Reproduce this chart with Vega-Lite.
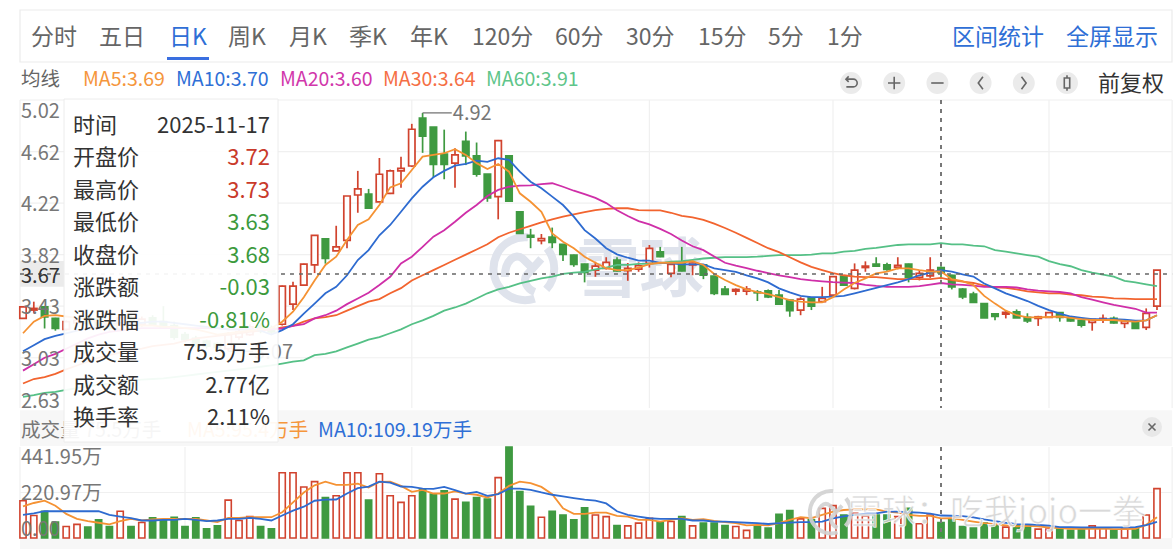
{"$schema":"https://vega.github.io/schema/vega-lite/v6.json","width":1175,"height":549,"padding":0,"autosize":{"type":"none"},"background":"#ffffff","config":{"view":{"stroke":null},"text":{"font":"Noto Sans CJK SC"}},
"datasets":{"k":[
{"i":0,"o":3.325,"h":3.42,"l":3.32,"c":3.415,"d":"up","v":181,"m5":3.21,"m10":3.07,"m20":2.92,"m30":2.82,"m60":2.716,"vm5":154,"vm10":112},
{"i":1,"o":3.39,"h":3.455,"l":3.365,"c":3.403,"d":"up","v":109,"m5":3.3,"m10":3.117,"m20":2.97,"m30":2.855,"m60":2.73,"vm5":170,"vm10":120},
{"i":2,"o":3.415,"h":3.415,"l":3.247,"c":3.337,"d":"down","v":130,"m5":3.345,"m10":3.164,"m20":3.02,"m30":2.87,"m60":2.748,"vm5":181,"vm10":130},
{"i":3,"o":3.325,"h":3.33,"l":3.23,"c":3.247,"d":"down","v":77,"m5":3.35,"m10":3.19,"m20":3.05,"m30":2.895,"m60":2.755,"vm5":157,"vm10":130},
{"i":4,"o":3.24,"h":3.31,"l":3.23,"c":3.3,"d":"up","v":56,"m5":3.34,"m10":3.21,"m20":3.09,"m30":2.93,"m60":2.77,"vm5":117,"vm10":130},
{"i":5,"o":3.29,"h":3.33,"l":3.27,"c":3.31,"d":"up","v":66,"m5":3.33,"m10":3.23,"m20":3.13,"m30":2.96,"m60":2.785,"vm5":93,"vm10":130},
{"i":6,"o":3.33,"h":3.34,"l":3.27,"c":3.29,"d":"down","v":53,"m5":3.32,"m10":3.25,"m20":3.17,"m30":2.99,"m60":2.8,"vm5":82,"vm10":130},
{"i":7,"o":3.32,"h":3.35,"l":3.26,"c":3.27,"d":"down","v":88,"m5":3.3,"m10":3.26,"m20":3.2,"m30":3.02,"m60":2.81,"vm5":74,"vm10":130},
{"i":8,"o":3.28,"h":3.3,"l":3.23,"c":3.25,"d":"down","v":56,"m5":3.28,"m10":3.28,"m20":3.22,"m30":3.04,"m60":2.82,"vm5":66,"vm10":112},
{"i":9,"o":3.24,"h":3.36,"l":3.23,"c":3.33,"d":"up","v":130,"m5":3.27,"m10":3.29,"m20":3.23,"m30":3.06,"m60":2.83,"vm5":82,"vm10":104},
{"i":10,"o":3.33,"h":3.35,"l":3.27,"c":3.29,"d":"down","v":56,"m5":3.27,"m10":3.29,"m20":3.24,"m30":3.08,"m60":2.84,"vm5":93,"vm10":96},
{"i":11,"o":3.28,"h":3.34,"l":3.26,"c":3.32,"d":"up","v":75,"m5":3.27,"m10":3.29,"m20":3.25,"m30":3.09,"m60":2.85,"vm5":85,"vm10":85},
{"i":12,"o":3.33,"h":3.35,"l":3.27,"c":3.28,"d":"down","v":98,"m5":3.27,"m10":3.3,"m20":3.25,"m30":3.11,"m60":2.855,"vm5":90,"vm10":85},
{"i":13,"o":3.3,"h":3.42,"l":3.25,"c":3.26,"d":"down","v":88,"m5":3.26,"m10":3.3,"m20":3.25,"m30":3.12,"m60":2.86,"vm5":93,"vm10":88},
{"i":14,"o":3.27,"h":3.3,"l":3.16,"c":3.18,"d":"down","v":101,"m5":3.26,"m10":3.29,"m20":3.25,"m30":3.13,"m60":2.87,"vm5":93,"vm10":88},
{"i":15,"o":3.2,"h":3.22,"l":3.14,"c":3.16,"d":"down","v":56,"m5":3.25,"m10":3.28,"m20":3.25,"m30":3.15,"m60":2.88,"vm5":93,"vm10":93},
{"i":16,"o":3.17,"h":3.19,"l":3.1,"c":3.12,"d":"down","v":98,"m5":3.24,"m10":3.27,"m20":3.25,"m30":3.17,"m60":2.89,"vm5":93,"vm10":88},
{"i":17,"o":3.15,"h":3.16,"l":3.09,"c":3.11,"d":"down","v":45,"m5":3.22,"m10":3.26,"m20":3.25,"m30":3.18,"m60":2.9,"vm5":85,"vm10":82},
{"i":18,"o":3.13,"h":3.14,"l":3.08,"c":3.1,"d":"down","v":59,"m5":3.2,"m10":3.25,"m20":3.25,"m30":3.19,"m60":2.91,"vm5":77,"vm10":85},
{"i":19,"o":3.09,"h":3.22,"l":3.07,"c":3.2,"d":"up","v":184,"m5":3.21,"m10":3.24,"m20":3.24,"m30":3.2,"m60":2.92,"vm5":98,"vm10":93},
{"i":20,"o":3.18,"h":3.24,"l":3.16,"c":3.22,"d":"up","v":85,"m5":3.22,"m10":3.24,"m20":3.24,"m30":3.21,"m60":2.93,"vm5":98,"vm10":93},
{"i":21,"o":3.2,"h":3.28,"l":3.19,"c":3.26,"d":"up","v":104,"m5":3.23,"m10":3.24,"m20":3.24,"m30":3.22,"m60":2.94,"vm5":101,"vm10":98},
{"i":22,"o":3.27,"h":3.29,"l":3.21,"c":3.23,"d":"down","v":56,"m5":3.24,"m10":3.23,"m20":3.24,"m30":3.23,"m60":2.95,"vm5":101,"vm10":93},
{"i":23,"o":3.25,"h":3.27,"l":3.2,"c":3.22,"d":"down","v":45,"m5":3.25,"m10":3.2,"m20":3.24,"m30":3.24,"m60":2.96,"vm5":101,"vm10":85},
{"i":24,"o":3.28,"h":3.58,"l":3.27,"c":3.576,"d":"up","v":317,"m5":3.3,"m10":3.234,"m20":3.247,"m30":3.255,"m60":2.975,"vm5":125,"vm10":109},
{"i":25,"o":3.436,"h":3.61,"l":3.39,"c":3.576,"d":"up","v":317,"m5":3.377,"m10":3.28,"m20":3.268,"m30":3.268,"m60":2.99,"vm5":173,"vm10":133},
{"i":26,"o":3.584,"h":3.75,"l":3.58,"c":3.747,"d":"up","v":248,"m5":3.49,"m10":3.363,"m20":3.28,"m30":3.3,"m60":3.0,"vm5":221,"vm10":152},
{"i":27,"o":3.74,"h":3.97,"l":3.677,"c":3.97,"d":"up","v":274,"m5":3.62,"m10":3.44,"m20":3.325,"m30":3.325,"m60":3.04,"vm5":256,"vm10":181},
{"i":28,"o":3.943,"h":3.94,"l":3.75,"c":3.79,"d":"down","v":197,"m5":3.74,"m10":3.52,"m20":3.35,"m30":3.335,"m60":3.05,"vm5":274,"vm10":186},
{"i":29,"o":3.85,"h":4.044,"l":3.85,"c":3.88,"d":"up","v":205,"m5":3.804,"m10":3.57,"m20":3.385,"m30":3.35,"m60":3.07,"vm5":258,"vm10":187},
{"i":30,"o":3.93,"h":4.275,"l":3.87,"c":4.275,"d":"up","v":317,"m5":3.934,"m10":3.66,"m20":3.436,"m30":3.385,"m60":3.1,"vm5":258,"vm10":216},
{"i":31,"o":4.283,"h":4.47,"l":4.145,"c":4.33,"d":"up","v":317,"m5":4.05,"m10":3.778,"m20":3.48,"m30":3.42,"m60":3.13,"vm5":264,"vm10":242},
{"i":32,"o":4.29,"h":4.33,"l":4.18,"c":4.18,"d":"down","v":184,"m5":4.094,"m10":3.855,"m20":3.524,"m30":3.455,"m60":3.16,"vm5":245,"vm10":250},
{"i":33,"o":4.23,"h":4.57,"l":4.23,"c":4.444,"d":"up","v":312,"m5":4.205,"m10":3.97,"m20":3.584,"m30":3.475,"m60":3.18,"vm5":272,"vm10":274},
{"i":34,"o":4.296,"h":4.48,"l":4.29,"c":4.47,"d":"up","v":205,"m5":4.342,"m10":4.05,"m20":3.648,"m30":3.52,"m60":3.21,"vm5":274,"vm10":269},
{"i":35,"o":4.47,"h":4.58,"l":4.34,"c":4.49,"d":"up","v":173,"m5":4.374,"m10":4.153,"m20":3.752,"m30":3.56,"m60":3.24,"vm5":253,"vm10":250},
{"i":36,"o":4.508,"h":4.835,"l":4.5,"c":4.793,"d":"up","v":205,"m5":4.477,"m10":4.257,"m20":3.804,"m30":3.62,"m60":3.28,"vm5":224,"vm10":248},
{"i":37,"o":4.88,"h":4.92,"l":4.61,"c":4.74,"d":"down","v":237,"m5":4.58,"m10":4.347,"m20":3.88,"m30":3.66,"m60":3.31,"vm5":234,"vm10":240},
{"i":38,"o":4.81,"h":4.81,"l":4.42,"c":4.52,"d":"down","v":213,"m5":4.594,"m10":4.42,"m20":3.96,"m30":3.7,"m60":3.345,"vm5":216,"vm10":239},
{"i":39,"o":4.6,"h":4.79,"l":4.405,"c":4.52,"d":"down","v":229,"m5":4.607,"m10":4.47,"m20":4.01,"m30":3.74,"m60":3.385,"vm5":216,"vm10":248},
{"i":40,"o":4.53,"h":4.645,"l":4.34,"c":4.594,"d":"up","v":189,"m5":4.638,"m10":4.51,"m20":4.075,"m30":3.78,"m60":3.41,"vm5":226,"vm10":232},
{"i":41,"o":4.7,"h":4.775,"l":4.515,"c":4.586,"d":"down","v":173,"m5":4.594,"m10":4.524,"m20":4.145,"m30":3.82,"m60":3.44,"vm5":216,"vm10":216},
{"i":42,"o":4.586,"h":4.69,"l":4.425,"c":4.445,"d":"down","v":197,"m5":4.53,"m10":4.55,"m20":4.205,"m30":3.86,"m60":3.48,"vm5":210,"vm10":224},
{"i":43,"o":4.445,"h":4.445,"l":4.23,"c":4.26,"d":"down","v":189,"m5":4.485,"m10":4.54,"m20":4.275,"m30":3.9,"m60":3.52,"vm5":197,"vm10":205},
{"i":44,"o":4.27,"h":4.71,"l":4.094,"c":4.705,"d":"up","v":293,"m5":4.524,"m10":4.568,"m20":4.322,"m30":3.955,"m60":3.55,"vm5":216,"vm10":213},
{"i":45,"o":4.586,"h":4.59,"l":4.23,"c":4.236,"d":"down","v":441.95,"m5":4.464,"m10":4.555,"m20":4.347,"m30":3.99,"m60":3.57,"vm5":253,"vm10":240},
{"i":46,"o":4.153,"h":4.155,"l":3.98,"c":3.985,"d":"down","v":226,"m5":4.296,"m10":4.464,"m20":4.355,"m30":4.017,"m60":3.597,"vm5":274,"vm10":240},
{"i":47,"o":3.97,"h":4.02,"l":3.87,"c":3.955,"d":"down","v":154,"m5":4.23,"m10":4.386,"m20":4.358,"m30":4.044,"m60":3.617,"vm5":266,"vm10":234},
{"i":48,"o":3.928,"h":3.98,"l":3.9,"c":3.944,"d":"up","v":101,"m5":4.153,"m10":4.335,"m20":4.368,"m30":4.07,"m60":3.636,"vm5":248,"vm10":221},
{"i":49,"o":3.957,"h":4.03,"l":3.87,"c":3.915,"d":"down","v":130,"m5":3.985,"m10":4.27,"m20":4.374,"m30":4.094,"m60":3.65,"vm5":213,"vm10":210},
{"i":50,"o":3.9,"h":3.9,"l":3.77,"c":3.822,"d":"down","v":112,"m5":3.92,"m10":4.205,"m20":4.347,"m30":4.115,"m60":3.67,"vm5":144,"vm10":202},
{"i":51,"o":3.817,"h":3.82,"l":3.726,"c":3.745,"d":"down","v":88,"m5":3.87,"m10":4.115,"m20":4.316,"m30":4.133,"m60":3.68,"vm5":117,"vm10":194},
{"i":52,"o":3.747,"h":3.75,"l":3.605,"c":3.683,"d":"down","v":147,"m5":3.804,"m10":4.01,"m20":4.29,"m30":4.15,"m60":3.687,"vm5":117,"vm10":186},
{"i":53,"o":3.7,"h":3.765,"l":3.648,"c":3.731,"d":"up","v":112,"m5":3.757,"m10":3.945,"m20":4.26,"m30":4.165,"m60":3.706,"vm5":123,"vm10":182},
{"i":54,"o":3.714,"h":3.8,"l":3.705,"c":3.76,"d":"up","v":104,"m5":3.716,"m10":3.87,"m20":4.22,"m30":4.175,"m60":3.72,"vm5":123,"vm10":168},
{"i":55,"o":3.778,"h":3.8,"l":3.69,"c":3.693,"d":"down","v":61,"m5":3.7,"m10":3.822,"m20":4.165,"m30":4.18,"m60":3.74,"vm5":107,"vm10":130},
{"i":56,"o":3.695,"h":3.755,"l":3.617,"c":3.714,"d":"up","v":59,"m5":3.7,"m10":3.796,"m20":4.12,"m30":4.18,"m60":3.74,"vm5":104,"vm10":112},
{"i":57,"o":3.708,"h":3.76,"l":3.687,"c":3.734,"d":"up","v":72,"m5":3.72,"m10":3.773,"m20":4.08,"m30":4.165,"m60":3.748,"vm5":88,"vm10":104},
{"i":58,"o":3.752,"h":3.895,"l":3.72,"c":3.869,"d":"up","v":96,"m5":3.747,"m10":3.773,"m20":4.055,"m30":4.163,"m60":3.75,"vm5":88,"vm10":96},
{"i":59,"o":3.842,"h":3.88,"l":3.8,"c":3.804,"d":"down","v":77,"m5":3.757,"m10":3.757,"m20":4.02,"m30":4.163,"m60":3.755,"vm5":80,"vm10":93},
{"i":60,"o":3.675,"h":3.75,"l":3.644,"c":3.745,"d":"up","v":80,"m5":3.757,"m10":3.752,"m20":3.98,"m30":4.145,"m60":3.766,"vm5":88,"vm10":93},
{"i":61,"o":3.765,"h":3.88,"l":3.69,"c":3.693,"d":"down","v":104,"m5":3.757,"m10":3.745,"m20":3.93,"m30":4.12,"m60":3.77,"vm5":96,"vm10":93},
{"i":62,"o":3.74,"h":3.757,"l":3.66,"c":3.755,"d":"up","v":59,"m5":3.77,"m10":3.745,"m20":3.885,"m30":4.11,"m60":3.78,"vm5":88,"vm10":85},
{"i":63,"o":3.74,"h":3.74,"l":3.63,"c":3.66,"d":"down","v":72,"m5":3.74,"m10":3.745,"m20":3.855,"m30":4.09,"m60":3.79,"vm5":91,"vm10":85},
{"i":64,"o":3.654,"h":3.655,"l":3.506,"c":3.52,"d":"down","v":72,"m5":3.67,"m10":3.714,"m20":3.805,"m30":4.06,"m60":3.796,"vm5":83,"vm10":80},
{"i":65,"o":3.553,"h":3.576,"l":3.51,"c":3.512,"d":"down","v":61,"m5":3.623,"m10":3.7,"m20":3.757,"m30":4.027,"m60":3.8,"vm5":77,"vm10":80},
{"i":66,"o":3.537,"h":3.558,"l":3.506,"c":3.55,"d":"up","v":56,"m5":3.584,"m10":3.687,"m20":3.735,"m30":3.99,"m60":3.8,"vm5":72,"vm10":77},
{"i":67,"o":3.537,"h":3.576,"l":3.506,"c":3.553,"d":"up","v":37,"m5":3.55,"m10":3.66,"m20":3.716,"m30":3.95,"m60":3.8,"vm5":61,"vm10":74},
{"i":68,"o":3.53,"h":3.545,"l":3.46,"c":3.524,"d":"down","v":59,"m5":3.53,"m10":3.636,"m20":3.695,"m30":3.91,"m60":3.804,"vm5":64,"vm10":72},
{"i":69,"o":3.54,"h":3.55,"l":3.483,"c":3.493,"d":"down","v":48,"m5":3.514,"m10":3.605,"m20":3.677,"m30":3.87,"m60":3.81,"vm5":61,"vm10":68},
{"i":70,"o":3.506,"h":3.545,"l":3.436,"c":3.436,"d":"down","v":115,"m5":3.49,"m10":3.558,"m20":3.66,"m30":3.84,"m60":3.817,"vm5":72,"vm10":72},
{"i":71,"o":3.467,"h":3.467,"l":3.338,"c":3.385,"d":"down","v":133,"m5":3.467,"m10":3.527,"m20":3.646,"m30":3.8,"m60":3.817,"vm5":88,"vm10":75},
{"i":72,"o":3.39,"h":3.49,"l":3.35,"c":3.475,"d":"up","v":93,"m5":3.455,"m10":3.5,"m20":3.63,"m30":3.76,"m60":3.817,"vm5":101,"vm10":77},
{"i":73,"o":3.485,"h":3.49,"l":3.39,"c":3.42,"d":"down","v":88,"m5":3.45,"m10":3.49,"m20":3.62,"m30":3.725,"m60":3.82,"vm5":96,"vm10":77},
{"i":74,"o":3.455,"h":3.57,"l":3.45,"c":3.48,"d":"up","v":144,"m5":3.45,"m10":3.49,"m20":3.613,"m30":3.7,"m60":3.83,"vm5":112,"vm10":80},
{"i":75,"o":3.506,"h":3.65,"l":3.5,"c":3.65,"d":"up","v":157,"m5":3.49,"m10":3.495,"m20":3.607,"m30":3.676,"m60":3.83,"vm5":128,"vm10":95},
{"i":76,"o":3.654,"h":3.66,"l":3.58,"c":3.584,"d":"down","v":112,"m5":3.55,"m10":3.5,"m20":3.603,"m30":3.66,"m60":3.843,"vm5":136,"vm10":105},
{"i":77,"o":3.558,"h":3.752,"l":3.55,"c":3.7,"d":"up","v":120,"m5":3.6,"m10":3.52,"m20":3.6,"m30":3.65,"m60":3.85,"vm5":139,"vm10":112},
{"i":78,"o":3.72,"h":3.768,"l":3.687,"c":3.731,"d":"up","v":107,"m5":3.636,"m10":3.54,"m20":3.586,"m30":3.645,"m60":3.864,"vm5":139,"vm10":118},
{"i":79,"o":3.747,"h":3.8,"l":3.726,"c":3.73,"d":"down","v":112,"m5":3.675,"m10":3.563,"m20":3.577,"m30":3.645,"m60":3.872,"vm5":139,"vm10":120},
{"i":80,"o":3.74,"h":3.757,"l":3.695,"c":3.706,"d":"down","v":112,"m5":3.688,"m10":3.584,"m20":3.57,"m30":3.637,"m60":3.885,"vm5":128,"vm10":128},
{"i":81,"o":3.722,"h":3.8,"l":3.706,"c":3.737,"d":"up","v":104,"m5":3.714,"m10":3.605,"m20":3.57,"m30":3.63,"m60":3.895,"vm5":123,"vm10":128},
{"i":82,"o":3.747,"h":3.75,"l":3.605,"c":3.644,"d":"down","v":144,"m5":3.714,"m10":3.63,"m20":3.57,"m30":3.63,"m60":3.9,"vm5":112,"vm10":125},
{"i":83,"o":3.644,"h":3.7,"l":3.62,"c":3.675,"d":"up","v":69,"m5":3.7,"m10":3.66,"m20":3.575,"m30":3.63,"m60":3.9,"vm5":107,"vm10":123},
{"i":84,"o":3.656,"h":3.8,"l":3.64,"c":3.7,"d":"up","v":112,"m5":3.688,"m10":3.68,"m20":3.588,"m30":3.63,"m60":3.9,"vm5":107,"vm10":118},
{"i":85,"o":3.72,"h":3.73,"l":3.63,"c":3.68,"d":"down","v":75.5,"m5":3.69,"m10":3.7,"m20":3.6,"m30":3.64,"m60":3.91,"vm5":95.4,"vm10":109.19},
{"i":86,"o":3.66,"h":3.665,"l":3.55,"c":3.57,"d":"down","v":88,"m5":3.63,"m10":3.688,"m20":3.59,"m30":3.622,"m60":3.9,"vm5":96,"vm10":108},
{"i":87,"o":3.553,"h":3.56,"l":3.475,"c":3.493,"d":"down","v":56,"m5":3.615,"m10":3.667,"m20":3.585,"m30":3.61,"m60":3.9,"vm5":88,"vm10":106},
{"i":88,"o":3.514,"h":3.532,"l":3.45,"c":3.45,"d":"down","v":48,"m5":3.584,"m10":3.65,"m20":3.58,"m30":3.6,"m60":3.89,"vm5":80,"vm10":100},
{"i":89,"o":3.44,"h":3.445,"l":3.33,"c":3.33,"d":"down","v":72,"m5":3.5,"m10":3.596,"m20":3.57,"m30":3.58,"m60":3.885,"vm5":72,"vm10":90},
{"i":90,"o":3.36,"h":3.365,"l":3.31,"c":3.34,"d":"down","v":59,"m5":3.44,"m10":3.558,"m20":3.57,"m30":3.567,"m60":3.855,"vm5":67,"vm10":82},
{"i":91,"o":3.358,"h":3.39,"l":3.325,"c":3.372,"d":"up","v":53,"m5":3.385,"m10":3.52,"m20":3.57,"m30":3.563,"m60":3.843,"vm5":61,"vm10":74},
{"i":92,"o":3.376,"h":3.395,"l":3.33,"c":3.33,"d":"down","v":59,"m5":3.35,"m10":3.49,"m20":3.565,"m30":3.55,"m60":3.83,"vm5":56,"vm10":67},
{"i":93,"o":3.333,"h":3.365,"l":3.29,"c":3.305,"d":"down","v":59,"m5":3.333,"m10":3.46,"m20":3.55,"m30":3.535,"m60":3.817,"vm5":59,"vm10":66},
{"i":94,"o":3.325,"h":3.345,"l":3.267,"c":3.338,"d":"up","v":43,"m5":3.333,"m10":3.423,"m20":3.54,"m30":3.527,"m60":3.804,"vm5":56,"vm10":64},
{"i":95,"o":3.333,"h":3.375,"l":3.33,"c":3.37,"d":"up","v":43,"m5":3.336,"m10":3.39,"m20":3.535,"m30":3.52,"m60":3.77,"vm5":51,"vm10":60},
{"i":96,"o":3.37,"h":3.375,"l":3.3,"c":3.333,"d":"down","v":43,"m5":3.34,"m10":3.363,"m20":3.53,"m30":3.52,"m60":3.747,"vm5":48,"vm10":53},
{"i":97,"o":3.333,"h":3.34,"l":3.3,"c":3.305,"d":"down","v":37,"m5":3.33,"m10":3.34,"m20":3.52,"m30":3.51,"m60":3.73,"vm5":45,"vm10":53},
{"i":98,"o":3.31,"h":3.31,"l":3.255,"c":3.273,"d":"down","v":43,"m5":3.32,"m10":3.33,"m20":3.49,"m30":3.505,"m60":3.7,"vm5":45,"vm10":52},
{"i":99,"o":3.294,"h":3.32,"l":3.23,"c":3.317,"d":"up","v":59,"m5":3.313,"m10":3.32,"m20":3.47,"m30":3.495,"m60":3.68,"vm5":45,"vm10":52},
{"i":100,"o":3.32,"h":3.355,"l":3.29,"c":3.325,"d":"up","v":48,"m5":3.313,"m10":3.32,"m20":3.45,"m30":3.49,"m60":3.665,"vm5":46,"vm10":52},
{"i":101,"o":3.325,"h":3.34,"l":3.285,"c":3.29,"d":"down","v":37,"m5":3.313,"m10":3.32,"m20":3.43,"m30":3.48,"m60":3.65,"vm5":43,"vm10":52},
{"i":102,"o":3.286,"h":3.31,"l":3.25,"c":3.305,"d":"up","v":43,"m5":3.305,"m10":3.315,"m20":3.415,"m30":3.478,"m60":3.617,"vm5":43,"vm10":52},
{"i":103,"o":3.29,"h":3.29,"l":3.245,"c":3.248,"d":"down","v":48,"m5":3.3,"m10":3.307,"m20":3.4,"m30":3.475,"m60":3.605,"vm5":45,"vm10":53},
{"i":104,"o":3.255,"h":3.403,"l":3.235,"c":3.365,"d":"up","v":112,"m5":3.31,"m10":3.31,"m20":3.37,"m30":3.475,"m60":3.59,"vm5":64,"vm10":62},
{"i":105,"o":3.42,"h":3.7,"l":3.39,"c":3.7,"d":"up","v":240,"m5":3.35,"m10":3.35,"m20":3.37,"m30":3.475,"m60":3.575,"vm5":101,"vm10":78}
]},
"data":{"name":"k"},
"resolve":{"scale":{"x":"independent","y":"independent","fill":"independent","stroke":"independent","color":"independent","shape":"independent"}},
"layer":[
{"data":{"values":[{}]},"mark":{"type":"rect","fill":"#f7f7f7"},"encoding":{"x":{"datum":-0.28,"type":"quantitative","scale":{"domain":[0,105],"range":[23,1157],"padding":0,"nice":false,"zero":false},"axis":null},"x2":{"datum":106.4},"y":{"datum":620,"type":"quantitative","scale":{"domain":[0,441.95],"range":[538,447],"nice":false},"axis":null},"y2":{"datum":447}}},
{"data":{"values":[{}]},"mark":{"type":"rect","fill":"#f7f7f7"},"encoding":{"x":{"datum":-0.28,"type":"quantitative","scale":{"domain":[0,105],"range":[23,1157],"padding":0,"nice":false,"zero":false},"axis":null},"x2":{"datum":106.4},"y":{"datum":0,"type":"quantitative","scale":{"domain":[0,441.95],"range":[538,447],"nice":false},"axis":null},"y2":{"datum":-60}}},
{"layer":[
 {"data":{"values":[{"g":-0.28},{"g":36},{"g":58},{"g":75},{"g":95},{"g":106.4}]},"mark":{"type":"rule","stroke":"#f0f0f0","strokeWidth":1.2},"encoding":{"x":{"field":"g","type":"quantitative","scale":{"domain":[0,105],"range":[23,1157],"padding":0,"nice":false,"zero":false},"axis":null},"y":{"datum":5.02,"type":"quantitative","scale":{"domain":[2.63,5.02],"range":[408,100],"nice":false,"zero":false},"axis":null},"y2":{"datum":2.63}}},
 {"data":{"values":[{"p":5.02},{"p":4.62},{"p":4.22},{"p":3.82},{"p":3.42},{"p":3.02}]},"mark":{"type":"rule","stroke":"#f0f0f0","strokeWidth":1.2},"encoding":{"y":{"field":"p","type":"quantitative","scale":{"domain":[2.63,5.02],"range":[408,100],"nice":false,"zero":false},"axis":null},"x":{"datum":-0.28,"type":"quantitative","scale":{"domain":[0,105],"range":[23,1157],"padding":0,"nice":false,"zero":false},"axis":null},"x2":{"datum":106.4}}},
 {"data":{"values":[{}]},"mark":{"type":"rect","fill":"#ebebeb"},"encoding":{"x":{"datum":-0.28,"type":"quantitative","scale":{"domain":[0,105],"range":[23,1157],"padding":0,"nice":false,"zero":false},"axis":null},"x2":{"datum":3.8},"y":{"datum":3.77,"type":"quantitative","scale":{"domain":[2.63,5.02],"range":[408,100],"nice":false,"zero":false},"axis":null},"y2":{"datum":3.57}}},
 {"data":{"values":[{"t":"雪球"}]},"mark":{"type":"text","fontSize":64,"fontWeight":"bold","fill":"#dfe3ec","align":"center","baseline":"middle","dy":2},"encoding":{"text":{"field":"t"},"x":{"datum":57.1,"type":"quantitative","scale":{"domain":[0,105],"range":[23,1157],"padding":0,"nice":false,"zero":false},"axis":null},"y":{"datum":3.7,"type":"quantitative","scale":{"domain":[2.63,5.02],"range":[408,100],"nice":false,"zero":false},"axis":null}}},
 {"data":{"values":[{}]},"mark":{"type":"point","filled":false,"stroke":"#dfe3ec","strokeWidth":8,"size":4400,"opacity":1,"shape":"M0.15,-0.95 A0.95,0.95 0 1 0 0.35,0.9 M0.72,-0.62 A0.95,0.95 0 0 1 0.7,0.62 M-0.55,0.25 C-0.55,-0.25 -0.25,-0.5 0,-0.3 L0.25,-0.05 M0.55,-0.3 L0.1,0.2 C0,0.35 0.1,0.6 0.35,0.7"},"encoding":{"x":{"datum":46.3,"type":"quantitative","scale":{"domain":[0,105],"range":[23,1157],"padding":0,"nice":false,"zero":false},"axis":null},"y":{"datum":3.71,"type":"quantitative","scale":{"domain":[2.63,5.02],"range":[408,100],"nice":false,"zero":false},"axis":null}}},
 {"mark":{"type":"rule","strokeWidth":1.7},"encoding":{"x":{"field":"i","type":"quantitative","scale":{"domain":[0,105],"range":[23,1157],"padding":0,"nice":false,"zero":false},"axis":null},"y":{"field":"l","type":"quantitative","scale":{"domain":[2.63,5.02],"range":[408,100],"nice":false,"zero":false},"axis":null},"y2":{"field":"h"},"stroke":{"field":"d","type":"nominal","scale":{"domain":["up","down"],"range":["#d1432e","#3f9a41"]},"legend":null}}},
 {"mark":{"type":"bar","size":6.4,"strokeWidth":1.7,"orient":"vertical"},"encoding":{"x":{"field":"i","type":"quantitative","scale":{"domain":[0,105],"range":[23,1157],"padding":0,"nice":false,"zero":false},"axis":null},"y":{"field":"o","type":"quantitative","scale":{"domain":[2.63,5.02],"range":[408,100],"nice":false,"zero":false},"axis":null},"y2":{"field":"c"},"stroke":{"field":"d","type":"nominal","scale":{"domain":["up","down"],"range":["#d1432e","#3f9a41"]},"legend":null},"fill":{"field":"d","type":"nominal","scale":{"domain":["up","down"],"range":["#ffffff","#3f9a41"]},"legend":null}}},
 {"mark":{"type":"line","stroke":"#55c086","strokeWidth":1.8},"encoding":{"x":{"field":"i","type":"quantitative","scale":{"domain":[0,105],"range":[23,1157],"padding":0,"nice":false,"zero":false},"axis":null},"y":{"field":"m60","type":"quantitative","scale":{"domain":[2.63,5.02],"range":[408,100],"nice":false,"zero":false},"axis":null}}},
 {"mark":{"type":"line","stroke":"#f2642f","strokeWidth":1.8},"encoding":{"x":{"field":"i","type":"quantitative","scale":{"domain":[0,105],"range":[23,1157],"padding":0,"nice":false,"zero":false},"axis":null},"y":{"field":"m30","type":"quantitative","scale":{"domain":[2.63,5.02],"range":[408,100],"nice":false,"zero":false},"axis":null}}},
 {"mark":{"type":"line","stroke":"#cf2fa8","strokeWidth":1.8},"encoding":{"x":{"field":"i","type":"quantitative","scale":{"domain":[0,105],"range":[23,1157],"padding":0,"nice":false,"zero":false},"axis":null},"y":{"field":"m20","type":"quantitative","scale":{"domain":[2.63,5.02],"range":[408,100],"nice":false,"zero":false},"axis":null}}},
 {"mark":{"type":"line","stroke":"#2e6bd0","strokeWidth":1.8},"encoding":{"x":{"field":"i","type":"quantitative","scale":{"domain":[0,105],"range":[23,1157],"padding":0,"nice":false,"zero":false},"axis":null},"y":{"field":"m10","type":"quantitative","scale":{"domain":[2.63,5.02],"range":[408,100],"nice":false,"zero":false},"axis":null}}},
 {"mark":{"type":"line","stroke":"#f59233","strokeWidth":1.8},"encoding":{"x":{"field":"i","type":"quantitative","scale":{"domain":[0,105],"range":[23,1157],"padding":0,"nice":false,"zero":false},"axis":null},"y":{"field":"m5","type":"quantitative","scale":{"domain":[2.63,5.02],"range":[408,100],"nice":false,"zero":false},"axis":null}}},
 {"data":{"values":[{"a":37,"b":39.7,"p":4.92},{"a":19,"b":21.3,"p":3.07}]},"mark":{"type":"rule","stroke":"#777777","strokeWidth":1.3},"encoding":{"x":{"field":"a","type":"quantitative","scale":{"domain":[0,105],"range":[23,1157],"padding":0,"nice":false,"zero":false},"axis":null},"x2":{"field":"b"},"y":{"field":"p","type":"quantitative","scale":{"domain":[2.63,5.02],"range":[408,100],"nice":false,"zero":false},"axis":null}}},
 {"data":{"values":[{"a":39.8,"p":4.92,"t":"4.92"},{"a":21.4,"p":3.07,"t":"3.07"}]},"mark":{"type":"text","fontSize":20,"fill":"#777777","align":"left","baseline":"middle","dy":1.5},"encoding":{"text":{"field":"t"},"x":{"field":"a","type":"quantitative","scale":{"domain":[0,105],"range":[23,1157],"padding":0,"nice":false,"zero":false},"axis":null},"y":{"field":"p","type":"quantitative","scale":{"domain":[2.63,5.02],"range":[408,100],"nice":false,"zero":false},"axis":null}}},
 {"data":{"values":[{}]},"mark":{"type":"rule","stroke":"#666666","strokeWidth":1.5,"strokeDash":[4,5]},"encoding":{"x":{"datum":-0.28,"type":"quantitative","scale":{"domain":[0,105],"range":[23,1157],"padding":0,"nice":false,"zero":false},"axis":null},"x2":{"datum":106.4},"y":{"datum":3.67,"type":"quantitative","scale":{"domain":[2.63,5.02],"range":[408,100],"nice":false,"zero":false},"axis":null}}},
 {"data":{"values":[{}]},"mark":{"type":"rule","stroke":"#777777","strokeWidth":2,"strokeDash":[4,5]},"encoding":{"x":{"datum":85,"type":"quantitative","scale":{"domain":[0,105],"range":[23,1157],"padding":0,"nice":false,"zero":false},"axis":null},"y":{"datum":5.02,"type":"quantitative","scale":{"domain":[2.63,5.02],"range":[408,100],"nice":false,"zero":false},"axis":null},"y2":{"datum":2.63}}}
]},
{"data":{"values":[{"s":0,"t":"5.02","k":"a"},{"s":1,"t":"4.62","k":"a"},{"s":2,"t":"4.22","k":"a"},{"s":3,"t":"3.82","k":"a"},{"s":4,"t":"3.67","k":"b"},{"s":5,"t":"3.43","k":"a"},{"s":6,"t":"3.03","k":"a"},{"s":7,"t":"2.63","k":"a"}]},"mark":{"type":"text","fontSize":20,"align":"left","baseline":"middle","dx":21},"encoding":{"text":{"field":"t"},"x":{"datum":0,"type":"quantitative","scale":{"domain":[0,1],"range":[0,1],"nice":false,"zero":false},"axis":null},"y":{"field":"s","type":"quantitative","scale":{"domain":[0,1,2,3,4,5,6,7],"range":[112,154,205,257,277,308,360,402],"nice":false,"zero":false},"axis":null},"fill":{"field":"k","type":"nominal","scale":{"domain":["a","b"],"range":["#777777","#333333"]},"legend":null}}},
{"layer":[
 {"data":{"values":[{"g":-0.28},{"g":15},{"g":36},{"g":58},{"g":75},{"g":95},{"g":106.4}]},"mark":{"type":"rule","stroke":"#f0f0f0","strokeWidth":1.2},"encoding":{"x":{"field":"g","type":"quantitative","scale":{"domain":[0,105],"range":[23,1157],"padding":0,"nice":false,"zero":false},"axis":null},"y":{"datum":441.95,"type":"quantitative","scale":{"domain":[0,441.95],"range":[538,447],"nice":false},"axis":null},"y2":{"datum":0}}},
 {"data":{"values":[{"p":220.97}]},"mark":{"type":"rule","stroke":"#f0f0f0","strokeWidth":1.2},"encoding":{"y":{"field":"p","type":"quantitative","scale":{"domain":[0,441.95],"range":[538,447],"nice":false},"axis":null},"x":{"datum":-0.28,"type":"quantitative","scale":{"domain":[0,105],"range":[23,1157],"padding":0,"nice":false,"zero":false},"axis":null},"x2":{"datum":106.4}}},
 {"mark":{"type":"bar","size":6.2,"strokeWidth":1.6,"orient":"vertical"},"encoding":{"x":{"field":"i","type":"quantitative","scale":{"domain":[0,105],"range":[23,1157],"padding":0,"nice":false,"zero":false},"axis":null},"y":{"field":"v","type":"quantitative","stack":null,"scale":{"domain":[0,441.95],"range":[538,447],"nice":false},"axis":null},"stroke":{"field":"d","type":"nominal","scale":{"domain":["up","down"],"range":["#d1432e","#3f9a41"]},"legend":null},"fill":{"field":"d","type":"nominal","scale":{"domain":["up","down"],"range":["#ffffff","#3f9a41"]},"legend":null}}},
 {"mark":{"type":"line","stroke":"#f59233","strokeWidth":1.8},"encoding":{"x":{"field":"i","type":"quantitative","scale":{"domain":[0,105],"range":[23,1157],"padding":0,"nice":false,"zero":false},"axis":null},"y":{"field":"vm5","type":"quantitative","scale":{"domain":[0,441.95],"range":[538,447],"nice":false},"axis":null}}},
 {"mark":{"type":"line","stroke":"#2e6bd0","strokeWidth":1.8},"encoding":{"x":{"field":"i","type":"quantitative","scale":{"domain":[0,105],"range":[23,1157],"padding":0,"nice":false,"zero":false},"axis":null},"y":{"field":"vm10","type":"quantitative","scale":{"domain":[0,441.95],"range":[538,447],"nice":false},"axis":null}}},
 {"data":{"values":[{}]},"mark":{"type":"rule","stroke":"#777777","strokeWidth":2,"strokeDash":[4,5]},"encoding":{"x":{"datum":85,"type":"quantitative","scale":{"domain":[0,105],"range":[23,1157],"padding":0,"nice":false,"zero":false},"axis":null},"y":{"datum":441.95,"type":"quantitative","scale":{"domain":[0,441.95],"range":[538,447],"nice":false},"axis":null},"y2":{"datum":0}}},
 {"data":{"values":[{}]},"mark":{"type":"point","filled":false,"stroke":"#d2d2d2","strokeWidth":4,"size":2000,"opacity":0.9,"shape":"M0.15,-0.95 A0.95,0.95 0 1 0 0.35,0.9 M0.72,-0.62 A0.95,0.95 0 0 1 0.7,0.62 M-0.55,0.25 C-0.55,-0.25 -0.25,-0.5 0,-0.3 L0.25,-0.05 M0.55,-0.3 L0.1,0.2 C0,0.35 0.1,0.6 0.35,0.7"},"encoding":{"x":{"datum":74.7,"type":"quantitative","scale":{"domain":[0,105],"range":[23,1157],"padding":0,"nice":false,"zero":false},"axis":null},"y":{"datum":125,"type":"quantitative","scale":{"domain":[0,441.95],"range":[538,447],"nice":false},"axis":null}}},
 {"data":{"values":[{"t":"雪球：吃我jojo一拳"}]},"mark":{"type":"text","fontSize":34,"fill":"#d2d2d2","fillOpacity":0.85,"stroke":"#ffffff","strokeWidth":0.6,"align":"left","baseline":"middle"},"encoding":{"text":{"field":"t"},"x":{"datum":76.4,"type":"quantitative","scale":{"domain":[0,105],"range":[23,1157],"padding":0,"nice":false,"zero":false},"axis":null},"y":{"datum":115,"type":"quantitative","scale":{"domain":[0,441.95],"range":[538,447],"nice":false},"axis":null}}}
]},
{"data":{"values":[{"t":"441.95万","p":0},{"t":"220.97万","p":1},{"t":"0.00","p":2}]},"mark":{"type":"text","fontSize":20,"fill":"#777777","align":"left","baseline":"middle"},"encoding":{"text":{"field":"t"},"x":{"datum":0,"type":"quantitative","scale":{"domain":[0,1],"range":[21,100],"nice":false,"zero":false},"axis":null},"y":{"field":"p","type":"quantitative","scale":{"domain":[0,2],"range":[458,530],"nice":false,"zero":false},"axis":null}}},
{"data":{"values":[{"s":0,"t":"成交量 75.5万手","k":"a"},{"s":1,"t":"MA5:95.4万手","k":"b"},{"s":2,"t":"MA10:109.19万手","k":"c"}]},"mark":{"type":"text","fontSize":19.6,"align":"left","baseline":"middle"},"encoding":{"text":{"field":"t"},"x":{"field":"s","type":"quantitative","scale":{"domain":[0,1,2],"range":[21,187,318],"nice":false,"zero":false},"axis":null},"y":{"datum":0,"type":"quantitative","scale":{"domain":[0,1],"range":[430.5,450],"nice":false,"zero":false},"axis":null},"fill":{"field":"k","type":"nominal","scale":{"domain":["a","b","c"],"range":["#777777","#f5963c","#2f6fd6"]},"legend":null}}},
{"data":{"values":[{}]},"mark":{"type":"rect","fill":"#ffffff","fillOpacity":0.93,"stroke":"#ececec","strokeWidth":1},"encoding":{"x":{"datum":0,"type":"quantitative","scale":{"domain":[0,1],"range":[64,278],"nice":false,"zero":false},"axis":null},"x2":{"datum":1},"y":{"datum":0,"type":"quantitative","scale":{"domain":[0,1],"range":[99,442],"nice":false,"zero":false},"axis":null},"y2":{"datum":1}}},
{"data":{"values":[{"r":0,"t":"时间"},{"r":1,"t":"开盘价"},{"r":2,"t":"最高价"},{"r":3,"t":"最低价"},{"r":4,"t":"收盘价"},{"r":5,"t":"涨跌额"},{"r":6,"t":"涨跌幅"},{"r":7,"t":"成交量"},{"r":8,"t":"成交额"},{"r":9,"t":"换手率"}]},"mark":{"type":"text","fontSize":22,"fill":"#333333","align":"left","baseline":"middle"},"encoding":{"text":{"field":"t"},"x":{"datum":0,"type":"quantitative","scale":{"domain":[0,1],"range":[73,270],"nice":false,"zero":false},"axis":null},"y":{"field":"r","type":"quantitative","scale":{"domain":[0,9],"range":[126,418],"nice":false,"zero":false},"axis":null}}},
{"data":{"values":[{"r":0,"t":"2025-11-17","k":"n"},{"r":1,"t":"3.72","k":"r"},{"r":2,"t":"3.73","k":"r"},{"r":3,"t":"3.63","k":"g"},{"r":4,"t":"3.68","k":"g"},{"r":5,"t":"-0.03","k":"g"},{"r":6,"t":"-0.81%","k":"g"},{"r":7,"t":"75.5万手","k":"n"},{"r":8,"t":"2.77亿","k":"n"},{"r":9,"t":"2.11%","k":"n"}]},"mark":{"type":"text","fontSize":22,"align":"right","baseline":"middle"},"encoding":{"text":{"field":"t"},"x":{"datum":1,"type":"quantitative","scale":{"domain":[0,1],"range":[73,270],"nice":false,"zero":false},"axis":null},"y":{"field":"r","type":"quantitative","scale":{"domain":[0,9],"range":[126,418],"nice":false,"zero":false},"axis":null},"fill":{"field":"k","type":"nominal","scale":{"domain":["n","r","g"],"range":["#333333","#c93a2a","#3c9a3c"]},"legend":null}}},
{"data":{"values":[{}]},"mark":{"type":"rect","fill":"#ffffff","fillOpacity":0,"stroke":"#ececec","strokeWidth":1.2},"encoding":{"x":{"datum":0,"type":"quantitative","scale":{"domain":[0,1],"range":[20,1172],"nice":false,"zero":false},"axis":null},"x2":{"datum":1},"y":{"datum":0,"type":"quantitative","scale":{"domain":[0,1],"range":[10,62],"nice":false,"zero":false},"axis":null},"y2":{"datum":1}}},
{"data":{"values":[{}]},"mark":{"type":"rule","stroke":"#3a6fe0","strokeWidth":3},"encoding":{"x":{"datum":0,"type":"quantitative","scale":{"domain":[0,1],"range":[167,209],"nice":false,"zero":false},"axis":null},"x2":{"datum":1},"y":{"datum":0,"type":"quantitative","scale":{"domain":[0,1],"range":[58.5,60],"nice":false,"zero":false},"axis":null}}},
{"data":{"values":[{"s":0,"t":"分时","k":"a"},{"s":1,"t":"五日","k":"a"},{"s":2,"t":"日K","k":"b"},{"s":3,"t":"周K","k":"a"},{"s":4,"t":"月K","k":"a"},{"s":5,"t":"季K","k":"a"},{"s":6,"t":"年K","k":"a"},{"s":7,"t":"120分","k":"a"},{"s":8,"t":"60分","k":"a"},{"s":9,"t":"30分","k":"a"},{"s":10,"t":"15分","k":"a"},{"s":11,"t":"5分","k":"a"},{"s":12,"t":"1分","k":"a"},{"s":13,"t":"区间统计","k":"b"},{"s":14,"t":"全屏显示","k":"b"}]},"mark":{"type":"text","fontSize":23,"align":"left","baseline":"middle"},"encoding":{"text":{"field":"t"},"x":{"field":"s","type":"quantitative","scale":{"domain":[0,1,2,3,4,5,6,7,8,9,10,11,12,13,14],"range":[31,99,169,228,289,349,410,472,555,626,698,768,827,952,1066],"nice":false,"zero":false},"axis":null},"y":{"datum":0,"type":"quantitative","scale":{"domain":[0,1],"range":[38,58],"nice":false,"zero":false},"axis":null},"fill":{"field":"k","type":"nominal","scale":{"domain":["a","b"],"range":["#666666","#2f6fd6"]},"legend":null}}},
{"data":{"values":[{"s":0,"t":"均线","k":"a"},{"s":1,"t":"MA5:3.69","k":"b"},{"s":2,"t":"MA10:3.70","k":"c"},{"s":3,"t":"MA20:3.60","k":"d"},{"s":4,"t":"MA30:3.64","k":"e"},{"s":5,"t":"MA60:3.91","k":"f"}]},"mark":{"type":"text","fontSize":19.5,"align":"left","baseline":"middle"},"encoding":{"text":{"field":"t"},"x":{"field":"s","type":"quantitative","scale":{"domain":[0,1,2,3,4,5],"range":[21,83,176,280,383,486],"nice":false,"zero":false},"axis":null},"y":{"datum":0,"type":"quantitative","scale":{"domain":[0,1],"range":[80,100],"nice":false,"zero":false},"axis":null},"fill":{"field":"k","type":"nominal","scale":{"domain":["a","b","c","d","e","f"],"range":["#666666","#f5963c","#2f6fd6","#d137ab","#f56f45","#5fc58a"]},"legend":null}}},
{"data":{"values":[{"t":"前复权"}]},"mark":{"type":"text","fontSize":22,"fill":"#333333","align":"left","baseline":"middle"},"encoding":{"text":{"field":"t"},"x":{"datum":0,"type":"quantitative","scale":{"domain":[0,1],"range":[1098,1164],"nice":false,"zero":false},"axis":null},"y":{"datum":0,"type":"quantitative","scale":{"domain":[0,1],"range":[84,104],"nice":false,"zero":false},"axis":null}}},
{"data":{"values":[{"s":0},{"s":1},{"s":2},{"s":3},{"s":4},{"s":5}]},"mark":{"type":"point","filled":true,"fill":"#ebebeb","stroke":null,"size":480,"opacity":1,"shape":"circle"},"encoding":{"x":{"field":"s","type":"quantitative","scale":{"domain":[0,5],"range":[851,1067],"nice":false,"zero":false},"axis":null},"y":{"datum":0,"type":"quantitative","scale":{"domain":[0,1],"range":[83,103],"nice":false,"zero":false},"axis":null}}},
{"data":{"values":[{"s":0,"n":"undo"},{"s":1,"n":"plus"},{"s":2,"n":"minus"},{"s":3,"n":"left"},{"s":4,"n":"right"},{"s":5,"n":"candle"}]},"mark":{"type":"point","filled":false,"stroke":"#666666","strokeWidth":1.6,"size":240,"opacity":1},"encoding":{"x":{"field":"s","type":"quantitative","scale":{"domain":[0,5],"range":[851,1067],"nice":false,"zero":false},"axis":null},"y":{"datum":0,"type":"quantitative","scale":{"domain":[0,1],"range":[83,103],"nice":false,"zero":false},"axis":null},"shape":{"field":"n","type":"nominal","legend":null,"scale":{"domain":["undo","plus","minus","left","right","candle"],"range":["M-0.6,-0.5 L0.3,-0.5 A0.5,0.5 0 0 1 0.3,0.5 L-0.6,0.5 M-0.3,-0.85 L-0.65,-0.5 L-0.3,-0.15","M-0.8,0 L0.8,0 M0,-0.8 L0,0.8","M-0.8,0 L0.8,0","M0.3,-0.8 L-0.3,0 L0.3,0.8","M-0.3,-0.8 L0.3,0 L-0.3,0.8","M-0.35,-0.65 H0.35 V0.65 H-0.35 Z M0,-0.65 V-1 M0,0.65 V1"]}}}},
{"data":{"values":[{"s":0}]},"mark":{"type":"point","filled":true,"fill":"#e8e8e8","stroke":null,"size":400,"opacity":1,"shape":"circle"},"encoding":{"x":{"datum":0,"type":"quantitative","scale":{"domain":[0,1],"range":[1152,1172],"nice":false,"zero":false},"axis":null},"y":{"datum":0,"type":"quantitative","scale":{"domain":[0,1],"range":[427,447],"nice":false,"zero":false},"axis":null}}},
{"data":{"values":[{"s":0}]},"mark":{"type":"point","filled":false,"stroke":"#666666","strokeWidth":1.6,"size":100,"opacity":1,"shape":"M-0.7,-0.7 L0.7,0.7 M0.7,-0.7 L-0.7,0.7"},"encoding":{"x":{"datum":0,"type":"quantitative","scale":{"domain":[0,1],"range":[1152,1172],"nice":false,"zero":false},"axis":null},"y":{"datum":0,"type":"quantitative","scale":{"domain":[0,1],"range":[427,447],"nice":false,"zero":false},"axis":null}}}
]}
